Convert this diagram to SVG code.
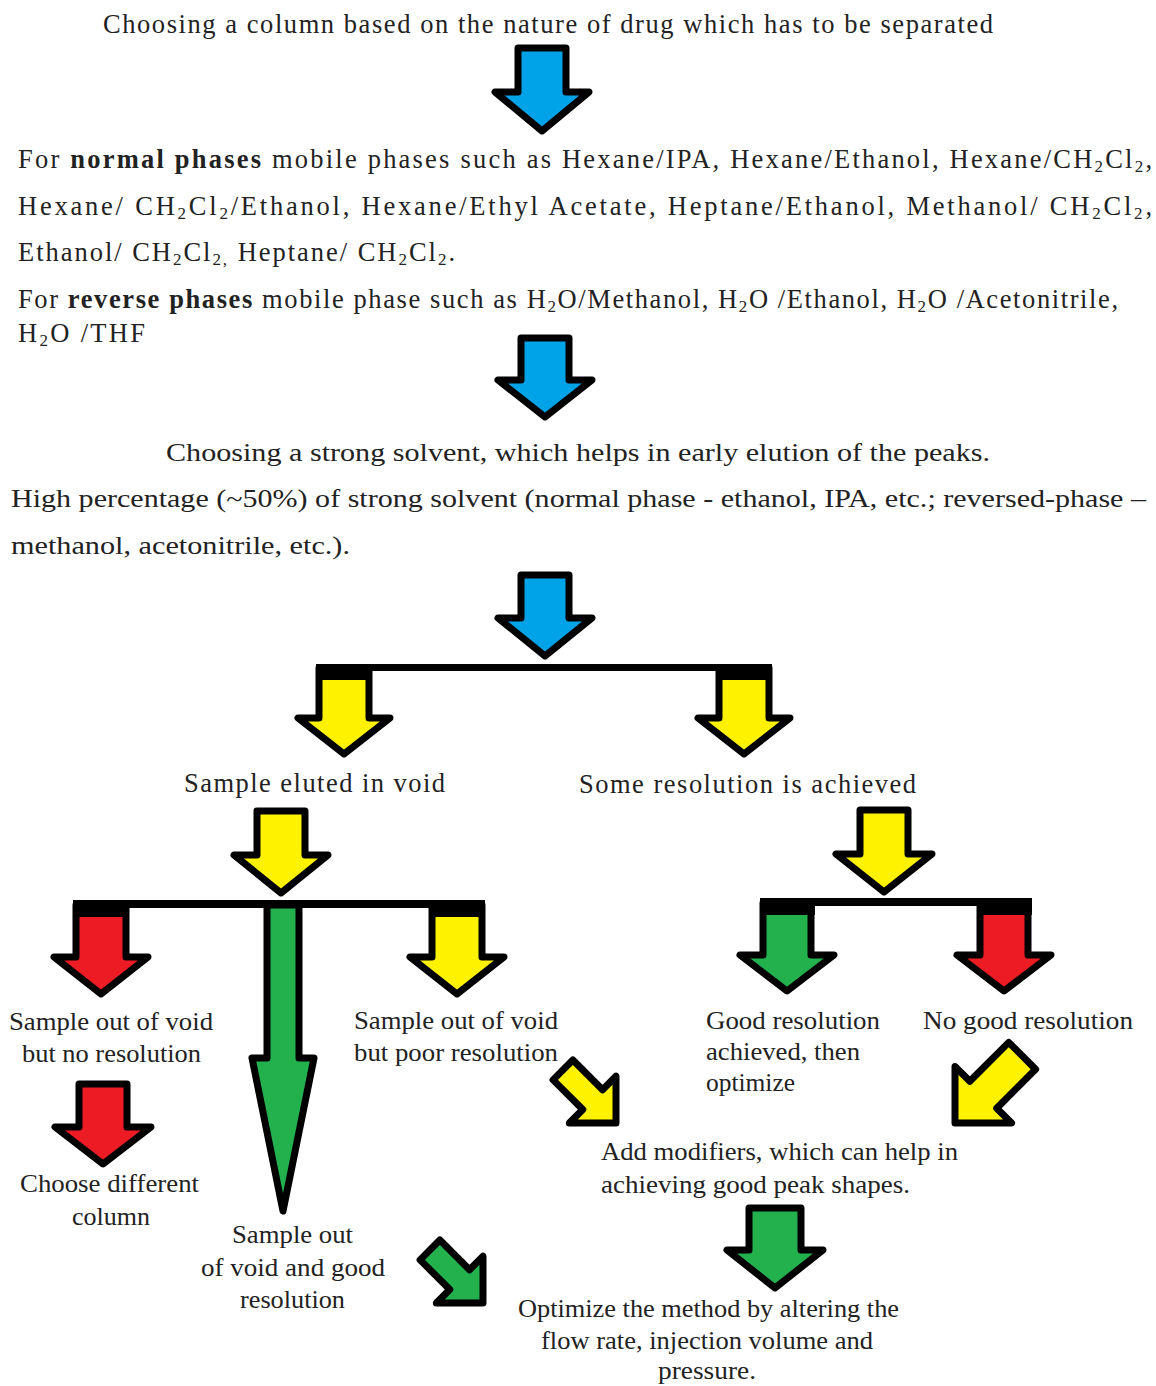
<svg xmlns="http://www.w3.org/2000/svg" width="1156" height="1386" viewBox="0 0 1156 1386">
<style>
text{font-family:"Liberation Serif","Times New Roman",serif;font-size:25px;fill:#222}
.lg{font-size:26.5px}
.b{font-weight:bold}
.sub{font-size:17px}
.ar{stroke:#000;stroke-width:7;stroke-linejoin:round}
.blue{fill:#00a2e8}.yel{fill:#fff200}.red{fill:#ed1c24}.grn{fill:#22b14c}
.bar{fill:#000}
</style>
<defs>
<polygon id="dsm" points="-14,-75 14,-75 14,-33 33,-33 0,0 -33,-33 -14,-33"/>
<polygon id="dbig" points="-19,-95 19,-95 19,-40 40,-40 0,0 -40,-40 -19,-40"/>
</defs>
<rect width="1156" height="1386" fill="#fff"/>

<g id="n1">
<text class="lg" x="103" y="33" textLength="890" lengthAdjust="spacing">Choosing a column based on the nature of drug which has to be separated</text>
</g>

<g id="n2">
<text class="lg" x="18" y="168" textLength="1134" lengthAdjust="spacing">For <tspan class="b">normal phases</tspan> mobile phases such as Hexane/IPA, Hexane/Ethanol, Hexane/CH<tspan class="sub" dy="4">2</tspan><tspan dy="-4">Cl</tspan><tspan class="sub" dy="4">2</tspan><tspan dy="-4">,</tspan></text>
<text class="lg" x="18" y="215" textLength="1134" lengthAdjust="spacing">Hexane/ CH<tspan class="sub" dy="4">2</tspan><tspan dy="-4">Cl</tspan><tspan class="sub" dy="4">2</tspan><tspan dy="-4">/Ethanol, Hexane/Ethyl Acetate, Heptane/Ethanol, Methanol/ CH</tspan><tspan class="sub" dy="4">2</tspan><tspan dy="-4">Cl</tspan><tspan class="sub" dy="4">2</tspan><tspan dy="-4">,</tspan></text>
<text class="lg" x="18" y="261" textLength="437" lengthAdjust="spacing">Ethanol/ CH<tspan class="sub" dy="4">2</tspan><tspan dy="-4">Cl</tspan><tspan class="sub" dy="4">2,</tspan><tspan dy="-4">  Heptane/ CH</tspan><tspan class="sub" dy="4">2</tspan><tspan dy="-4">Cl</tspan><tspan class="sub" dy="4">2</tspan><tspan dy="-4">.</tspan></text>
<text class="lg" x="18" y="308" textLength="1100" lengthAdjust="spacing">For <tspan class="b">reverse phases</tspan> mobile phase such as H<tspan class="sub" dy="4">2</tspan><tspan dy="-4">O/Methanol, H</tspan><tspan class="sub" dy="4">2</tspan><tspan dy="-4">O /Ethanol, H</tspan><tspan class="sub" dy="4">2</tspan><tspan dy="-4">O /Acetonitrile,</tspan></text>
<text class="lg" x="18" y="342" textLength="127" lengthAdjust="spacing">H<tspan class="sub" dy="4">2</tspan><tspan dy="-4">O /THF</tspan></text>
</g>

<g id="n3">
<text x="166" y="461" textLength="824" lengthAdjust="spacingAndGlyphs" font-size="28">Choosing a strong solvent, which helps in early elution of the peaks.</text>
<text x="11" y="507" textLength="1135" lengthAdjust="spacingAndGlyphs" font-size="28">High percentage (~50%) of strong solvent (normal phase - ethanol, IPA, etc.; reversed-phase –</text>
<text x="11" y="554" textLength="339" lengthAdjust="spacingAndGlyphs" font-size="28">methanol, acetonitrile, etc.).</text>
</g>

<g id="n4"><text class="lg" x="184" y="792" textLength="261" lengthAdjust="spacing">Sample eluted in void</text></g>
<g id="n5"><text class="lg" x="579" y="793" textLength="337" lengthAdjust="spacing">Some resolution is achieved</text></g>

<g id="n6">
<text x="9" y="1030" textLength="204" lengthAdjust="spacingAndGlyphs">Sample out of void</text>
<text x="22" y="1062" textLength="179" lengthAdjust="spacingAndGlyphs">but no resolution</text>
</g>
<g id="n7">
<text x="354" y="1029" textLength="204" lengthAdjust="spacingAndGlyphs">Sample out of void</text>
<text x="354" y="1061" textLength="204" lengthAdjust="spacingAndGlyphs">but poor resolution</text>
</g>
<g id="n8">
<text x="706" y="1029" textLength="174" lengthAdjust="spacingAndGlyphs">Good resolution</text>
<text x="706" y="1060" textLength="154" lengthAdjust="spacingAndGlyphs">achieved, then</text>
<text x="706" y="1091" textLength="89" lengthAdjust="spacingAndGlyphs">optimize</text>
</g>
<g id="n9"><text x="923" y="1029" textLength="210" lengthAdjust="spacingAndGlyphs">No good resolution</text></g>
<g id="n10">
<text x="20" y="1192" textLength="179" lengthAdjust="spacingAndGlyphs">Choose different</text>
<text x="72" y="1225" textLength="78" lengthAdjust="spacingAndGlyphs">column</text>
</g>
<g id="n11">
<text x="232" y="1243" textLength="121" lengthAdjust="spacingAndGlyphs">Sample out</text>
<text x="201" y="1276" textLength="184" lengthAdjust="spacingAndGlyphs">of void and good</text>
<text x="240" y="1308" textLength="105" lengthAdjust="spacingAndGlyphs">resolution</text>
</g>
<g id="n12">
<text x="601" y="1160" textLength="357" lengthAdjust="spacingAndGlyphs">Add modifiers, which can help in</text>
<text x="601" y="1193" textLength="309" lengthAdjust="spacingAndGlyphs">achieving good peak shapes.</text>
</g>
<g id="n13">
<text x="518" y="1317" textLength="381" lengthAdjust="spacingAndGlyphs">Optimize the method by altering the</text>
<text x="541" y="1349" textLength="332" lengthAdjust="spacingAndGlyphs">flow rate, injection volume and</text>
<text x="658" y="1379" textLength="98" lengthAdjust="spacingAndGlyphs">pressure.</text>
</g>

<g id="connectors">
<polygon class="ar blue" points="518,48 566,48 566,92 589,92 542,131 495,92 518,92"/>
<polygon class="ar blue" points="521,338 569,338 569,380 592,380 545,417 498,380 521,380"/>
<polygon class="ar blue" points="521,575 569,575 569,618 592,618 545,656 498,618 521,618"/>

<rect class="bar" x="316" y="664" width="456" height="7"/>
<polygon class="ar yel" points="319,668 369,668 369,718 390,718 344,754 298,718 319,718"/>
<polygon class="ar yel" points="719,668 769,668 769,718 790,718 744,754 698,718 719,718"/>
<rect class="bar" x="316" y="664" width="56" height="16"/>
<rect class="bar" x="716" y="664" width="56" height="16"/>

<polygon class="ar yel" points="257,811 305,811 305,855 328,855 281,893 234,855 257,855"/>
<rect class="bar" x="73" y="900" width="412" height="8"/>
<polygon class="ar red" points="76,905 126,905 126,957 148,957 101,994 54,957 76,957"/>
<polygon class="ar yel" points="432,905 482,905 482,957 504,957 457,994 410,957 432,957"/>
<polygon class="ar grn" points="267,905 299,905 299,1058 314,1058 283,1211 252,1058 267,1058"/>
<rect class="bar" x="73" y="900" width="56" height="17"/>
<rect class="bar" x="429" y="900" width="56" height="17"/>

<polygon class="ar yel" points="860,810 908,810 908,854 932,854 884,892 836,854 860,854"/>
<rect class="bar" x="760" y="898" width="272" height="8"/>
<polygon class="ar grn" points="763,903 811,903 811,955 834,955 787,991 740,955 763,955"/>
<polygon class="ar red" points="980,903 1028,903 1028,955 1051,955 1004,991 957,955 980,955"/>
<rect class="bar" x="760" y="898" width="55" height="17"/>
<rect class="bar" x="977" y="898" width="55" height="17"/>

<polygon class="ar red" points="79,1084 127,1084 127,1127 151,1127 103,1164 55,1127 79,1127"/>
<polygon class="ar grn" points="749,1208 801,1208 801,1250 823,1250 775,1288 727,1250 749,1250"/>

<use href="#dsm" class="ar yel" transform="translate(616,1123) rotate(-45)"/>
<use href="#dsm" class="ar grn" transform="translate(483,1303) rotate(-45)"/>
<use href="#dbig" class="ar yel" transform="translate(955,1123) rotate(45)"/>
</g>
</svg>
